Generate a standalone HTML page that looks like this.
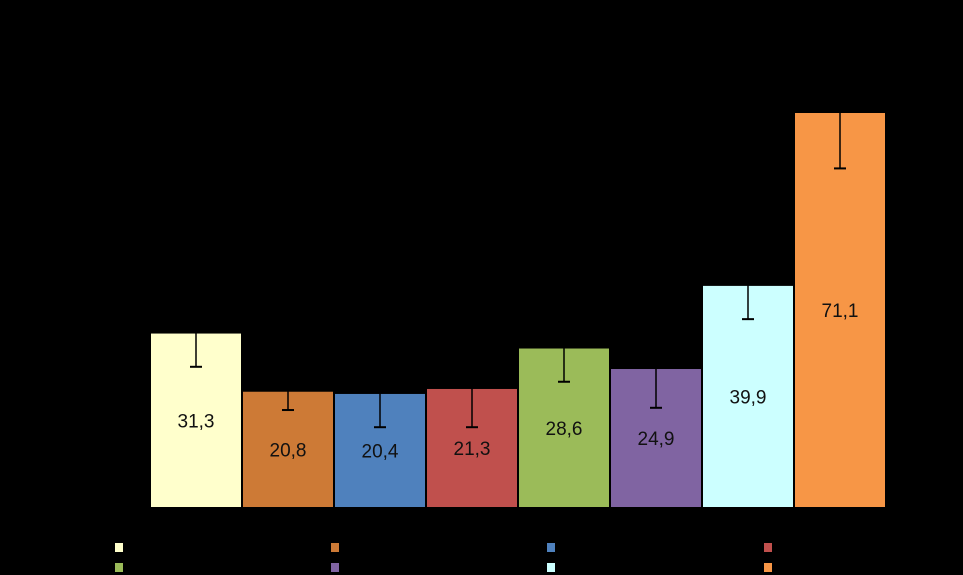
<!DOCTYPE html>
<html><head><meta charset="utf-8"><style>
html,body{margin:0;padding:0;background:#000;width:963px;height:575px;overflow:hidden}
svg{display:block}
</style></head><body>
<svg id="chart" width="963" height="575" xmlns="http://www.w3.org/2000/svg">
<rect x="0" y="0" width="963" height="575" fill="#000"/>
</svg>
<script>
const categories = ["A","B","C","D","E","F","G","H"];
const values = [31.3, 20.8, 20.4, 21.3, 28.6, 24.9, 39.9, 71.1];
const errors = [6.0, 3.3, 6.0, 6.9, 6.0, 7.0, 6.0, 10.0];
const valueLabels = ["31,3","20,8","20,4","21,3","28,6","24,9","39,9","71,1"];
const colors = ["#FFFFCC","#CD7A36","#4F81BD","#C0504D","#9BBB59","#8064A2","#CCFFFF","#F79646"];

const NS = "http://www.w3.org/2000/svg";
const svg = document.getElementById("chart");
const baseY = 507, topY = 113, maxV = 71.1;
const yScale = v => baseY - v * (baseY - topY) / maxV;
const x0 = 151, step = 92, bw = 90;
const xScale = i => x0 + i * step;

function mk(tag, attrs){const e=document.createElementNS(NS,tag);for(const k in attrs)e.setAttribute(k,attrs[k]);svg.appendChild(e);return e;}

values.forEach((v,i)=>{
  const x = xScale(i), y = yScale(v);
  const r = mk("rect",{x:x,y:y,width:bw,height:baseY-y,fill:colors[i]});
  
  
  const cx = x + bw/2, yl = yScale(v - errors[i]), yh = yScale(v + errors[i]);
  const l = mk("line",{x1:cx,y1:yh,x2:cx,y2:yl,stroke:"#000","stroke-width":1.5});
  
  
  const c = mk("line",{x1:cx-6,y1:yl,x2:cx+6,y2:yl,stroke:"#000","stroke-width":2});
  
  
  const t = mk("text",{x:cx,y:(y+baseY)/2+7,"text-anchor":"middle","font-family":"Liberation Sans, sans-serif","font-size":"19",fill:"#111"});
  t.textContent = valueLabels[i];
  
  
});

const legX = [115,331,547,764], legY = [543,563];
colors.forEach((c,i)=>{
  const s = mk("rect",{x:legX[i%4],y:legY[Math.floor(i/4)],width:8,height:9,fill:c});
  
  
});
</script>
</body></html>
